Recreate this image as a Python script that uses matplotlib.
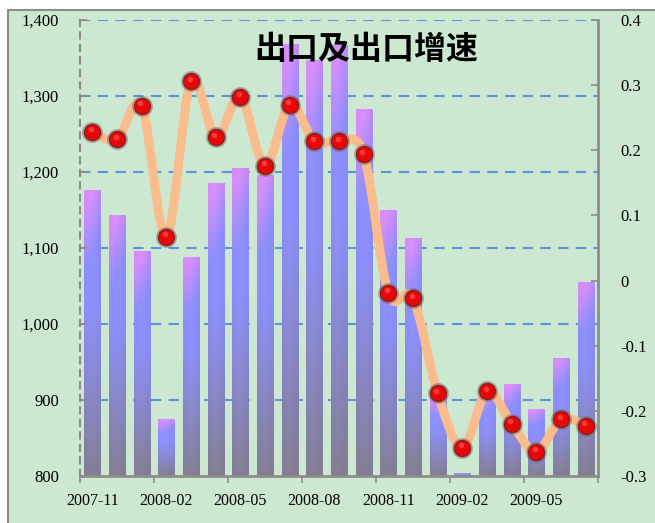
import matplotlib
matplotlib.use("Agg")
import matplotlib.pyplot as plt
import numpy as np
from matplotlib.path import Path
from matplotlib.patches import PathPatch, Rectangle

months = ["2007-11", "2007-12", "2008-01", "2008-02", "2008-03", "2008-04",
          "2008-05", "2008-06", "2008-07", "2008-08", "2008-09", "2008-10",
          "2008-11", "2008-12", "2009-01", "2009-02", "2009-03", "2009-04",
          "2009-05", "2009-06", "2009-07"]
exports = [1176, 1143, 1095, 875, 1088, 1185, 1204, 1196, 1368, 1347, 1366,
           1282, 1149, 1113, 905, 803, 910, 921, 888, 954, 1055]
growth = [0.228, 0.217, 0.268, 0.067, 0.306, 0.220, 0.282, 0.176, 0.270,
          0.214, 0.214, 0.194, -0.019, -0.027, -0.173, -0.257, -0.170,
          -0.220, -0.263, -0.213, -0.223]
left_ticks = [800, 900, 1000, 1100, 1200, 1300, 1400]
right_ticks = [-0.3, -0.2, -0.1, 0, 0.1, 0.2, 0.3, 0.4]
right_labels = ["-0.3", "-0.2", "-0.1", "0", "0.1", "0.2", "0.3", "0.4"]
title = "出口及出口增速"

green = "#cde8d0"
grey = "#8c8c8c"
serif = "Liberation Serif"

fig = plt.figure(figsize=(6.55, 5.23), dpi=100)
fig.patches.append(Rectangle((8 / 655, -0.05), 1.1, 1.05 - 10 / 523,
                             transform=fig.transFigure, facecolor=green,
                             edgecolor=grey, lw=1.5, zorder=-10))

ax = fig.add_axes([80 / 655, 47 / 523, 518 / 655, 456 / 523])
ax.set_facecolor("none")

# gridlines (behind bars)
for v in left_ticks[1:]:
    ax.axhline(v, color="#5b93dc", lw=1.5, ls=(0, (5, 3.5)), zorder=0.5)

# gradient bars
pink = np.array([0.86, 0.56, 1.0])
blue = np.array([0.56, 0.57, 1.0])
gray = np.array([0.52, 0.50, 0.56])
H, W = 80, 10
t = np.linspace(0, 1, H)[:, None]
u = np.linspace(0, 1, W)[None, :]
te = t + (0.5 - u) * 0.12
p = np.clip((te - 0.78) / 0.22, 0, 1)[..., None]
g = (np.clip((0.6 - t) / 0.6, 0, 1) ** 1.1 * 0.95 + 0 * u)[..., None]
img = blue * (1 - p) + pink * p
img = img * (1 - g) + gray * g
img = np.clip(img * (1 - 0.06 * np.abs(u - 0.4)[..., None]), 0, 1)

bw = 0.65
for i, v in enumerate(exports):
    ax.imshow(img, extent=(i - bw / 2, i + bw / 2, 800, v), origin="lower",
              aspect="auto", interpolation="bilinear", zorder=1)

ax.set_xlim(-0.5, len(months) - 0.5)
ax.set_ylim(800, 1400)
ax.set_yticks(left_ticks)
ax.set_yticklabels([f"{v:,}" for v in left_ticks], fontfamily=serif, fontsize=12)
ax.tick_params(axis="y", direction="in", length=5, color=grey, width=1.2, pad=15)

ax.set_xticks(np.arange(-0.5, len(months), 3))
ax.set_xticklabels([])
ax.set_xticks(np.arange(0, len(months), 3), minor=True)
ax.set_xticklabels(months[::3], minor=True, fontfamily=serif, fontsize=11.5)
ax.tick_params(axis="x", which="major", direction="out", length=5, color=grey, width=1.2)
ax.tick_params(axis="x", which="minor", length=0, pad=12)

ax.spines["top"].set_visible(False)
ax.spines["right"].set_visible(False)
ax.spines["left"].set_color(grey)
ax.spines["left"].set_linewidth(1.5)
ax.spines["left"].set_linestyle((0, (3, 3)))
ax.spines["bottom"].set_color(grey)
ax.spines["bottom"].set_linewidth(2)

ax2 = ax.twinx()
ax2.set_ylim(-0.3, 0.4)
ax2.set_yticks(right_ticks)
ax2.set_yticklabels(right_labels, fontfamily=serif, fontsize=12)
ax2.tick_params(axis="y", direction="in", length=5, color=grey, width=1.2, pad=16)
for s in ["top", "left", "bottom"]:
    ax2.spines[s].set_visible(False)
ax2.spines["right"].set_color(grey)
ax2.spines["right"].set_linewidth(2)

# smoothed growth line (Catmull-Rom as cubic Bezier)
x = np.arange(len(growth), dtype=float)
y = np.array(growth)
pts = np.column_stack([x, y])
ext = np.vstack([pts[0], pts, pts[-1]])
verts = [pts[0]]
codes = [Path.MOVETO]
for k in range(len(pts) - 1):
    p0, p1, p2, p3 = ext[k], ext[k + 1], ext[k + 2], ext[k + 3]
    verts += [p1 + (p2 - p0) / 6, p2 - (p3 - p1) / 6, p2]
    codes += [Path.CURVE4] * 3
ax2.add_patch(PathPatch(Path(verts, codes), facecolor="none", edgecolor="#f9bd8d",
                        lw=6.5, capstyle="round", joinstyle="round", zorder=3))
ax2.plot(x, y, "o", ms=15, color="#7a6060", alpha=0.5, mec="none", zorder=4)
ax2.plot(x, y, "o", ms=11.5, color="#e60808", mec="#8a2020", mew=1, zorder=5)
ax2.plot(x - 0.06, y + 0.004, "o", ms=4, color="#ff5050", mec="none", alpha=0.7, zorder=6)

ax.text(0.553, 0.934, title, transform=ax.transAxes, ha="center", va="center",
        fontsize=23, fontweight="bold", fontfamily=["Noto Sans CJK SC", "DejaVu Sans"],
        zorder=10)

fig.savefig("out.png", dpi=100)
